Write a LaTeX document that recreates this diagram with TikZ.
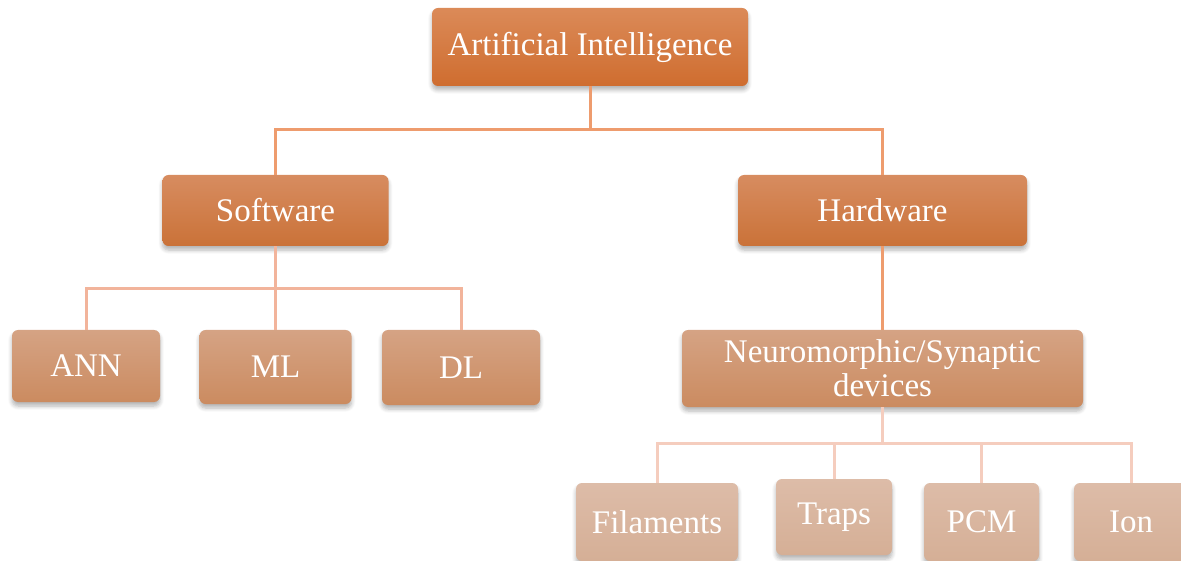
\documentclass[tikz,border=0pt]{standalone}
\usepackage{fontspec}
\setmainfont{Liberation Serif}
\usetikzlibrary{shadows.blur}
\definecolor{aTop}{HTML}{DB8A58}
\definecolor{aBot}{HTML}{CF6D2F}
\definecolor{bTop}{HTML}{D78C60}
\definecolor{bBot}{HTML}{CA7238}
\definecolor{cTop}{HTML}{D5A384}
\definecolor{cBot}{HTML}{CB8B60}
\definecolor{dTop}{HTML}{DDBCA8}
\definecolor{dBot}{HTML}{D5AF96}
\definecolor{lineA}{HTML}{EE9C6E}
\definecolor{lineB}{HTML}{F2B49B}
\definecolor{lineC}{HTML}{F5CDBE}
\tikzset{
  box/.style={rounded corners=6pt, text=white, align=center, inner sep=0pt,
    font=\fontsize{33}{34}\selectfont,
    blur shadow={shadow xshift=0pt, shadow yshift=-4pt, shadow opacity=30, shadow blur steps=6, shadow blur radius=4pt}},
  lvA/.style={box, top color=aTop, bottom color=aBot},
  lvB/.style={box, top color=bTop, bottom color=bBot},
  lvC/.style={box, top color=cTop, bottom color=cBot},
  lvD/.style={box, top color=dTop, bottom color=dBot},
  conA/.style={draw=lineA, line width=3pt},
  conB/.style={draw=lineB, line width=3pt},
  conC/.style={draw=lineC, line width=3pt},
}
\begin{document}
\begin{tikzpicture}[x=1pt,y=-1pt]
\useasboundingbox (0,0) rectangle (1181,561);
\clip (0,0) rectangle (1181,561);
% nodes
\node[lvA, minimum width=316pt, minimum height=78pt] (ai) at (590,47) {Artificial Intelligence};
\node[lvB, minimum width=226pt, minimum height=71pt] (sw) at (275.5,210.5) {Software};
\node[lvB, minimum width=289pt, minimum height=71pt] (hw) at (882.5,210.5) {Hardware};
\node[lvC, minimum width=148pt, minimum height=72pt] (ann) at (86,366) {ANN};
\node[lvC, minimum width=152pt, minimum height=74pt] (ml) at (275.5,367) {ML};
\node[lvC, minimum width=158pt, minimum height=75pt] (dl) at (461,367.5) {DL};
\node[lvC, minimum width=401pt, minimum height=77pt] (nd) at (882.5,368.5) {Neuromorphic/Synaptic\\devices};
\node[lvD, minimum width=162pt, minimum height=78pt] (fil) at (657,522) {Filaments};
\node[lvD, minimum width=116pt, minimum height=76pt] (tr) at (834,517) {Traps};
\node[lvD, minimum width=115pt, minimum height=78pt] (pcm) at (981.5,522) {PCM};
\node[lvD, minimum width=114pt, minimum height=78pt] (ion) at (1131,522) {Ion};
% bus points
\coordinate (busA) at ([yshift=-43pt]ai.south);
\coordinate (busB) at ([yshift=-42pt]sw.south);
\coordinate (busC) at ([yshift=-36pt]nd.south);
% connectors
\draw[conA] (ai.south) -- (busA);
\draw[conA] (busA) -| (sw.north);
\draw[conA] (busA) -| (hw.north);
\draw[conB] (sw.south) -- (busB);
\draw[conB] (busB) -| (ann.north);
\draw[conB] (busB) -- (ml.north);
\draw[conB] (busB) -| (dl.north);
\draw[conA] (hw.south) -- (nd.north);
\draw[conC] (nd.south) -- (busC);
\draw[conC] (busC) -| (fil.north);
\draw[conC] (busC) -| (tr.north);
\draw[conC] (busC) -| (pcm.north);
\draw[conC] (busC) -| (ion.north);
\end{tikzpicture}
\end{document}
